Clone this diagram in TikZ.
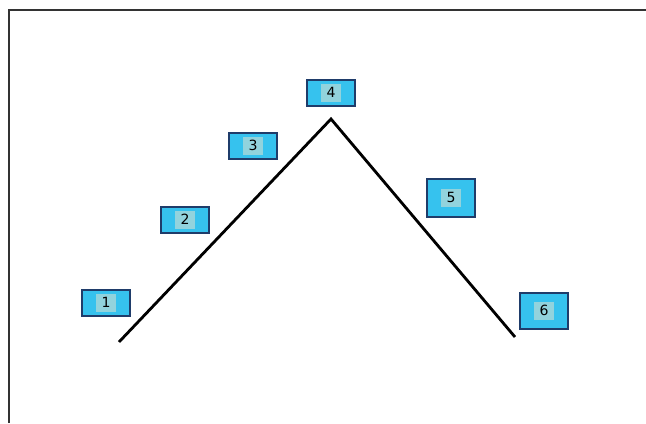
\documentclass[tikz,border=0pt]{standalone}
\usepackage{fontspec}
\setmainfont{DejaVu Sans}
\definecolor{boxfill}{HTML}{36C2EE}
\definecolor{boxline}{HTML}{1F3C6A}
\definecolor{innerfill}{HTML}{92D3DD}
\tikzset{
	numbox/.style={draw=boxline,fill=boxfill,line width=3.6pt,minimum width=2.4cm,minimum height=1.3cm,inner sep=0pt},
	path/.style={line width=4pt,black}
}
\newcommand{\num}[1]{{\fboxsep=2pt\colorbox{innerfill}{\makebox[0.9cm]{\rule[-0.15cm]{0pt}{0.74cm}\fontsize{20}{22}\selectfont #1}}}}
\begin{document}
\begin{tikzpicture}[x=0.05cm,y=-0.05cm]
			\useasboundingbox (0,0) rectangle (646,423);
			\draw [line width=3.9pt,black!80] (9,423) -- (9,10) -- (646,10);
			
			\node [numbox] (B1) at (106,303) {\num{1}};
			\node [numbox] (B2) at (185,220) {\num{2}};
			\node [numbox] (B3) at (253,146) {\num{3}};
			\node [numbox] (B4) at (331,93) {\num{4}};
			\node [numbox,minimum height=1.9cm] (B5) at (451,198) {\num{5}};
			\node [numbox,minimum height=1.8cm] (B6) at (544,311) {\num{6}};
			
			\coordinate (P0) at (119,342);
			\coordinate (P1) at (331,119);
			\coordinate (P2) at (515,337);
			\draw [path] (P0) -- (P1) -- (P2);
		\end{tikzpicture}
\end{document}
